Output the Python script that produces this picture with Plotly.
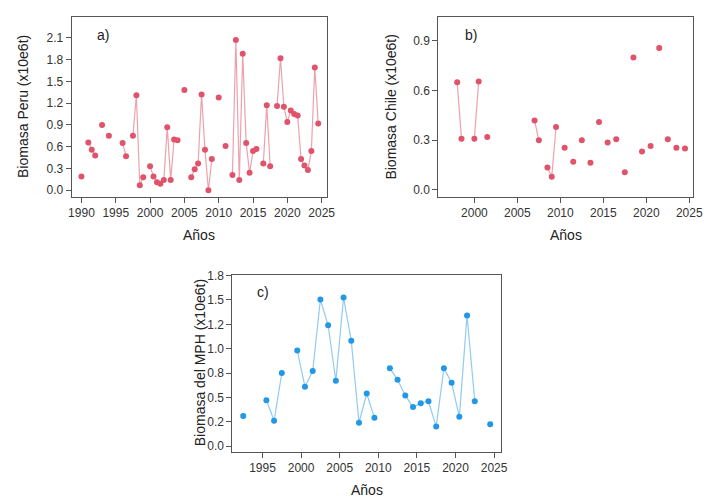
import plotly.graph_objects as go

# ---- data ----
peru_years = [1990, 1991, 1991.5, 1992, 1993, 1994, 1996, 1996.5, 1997.5, 1998, 1998.5, 1999,
              2000, 2000.5, 2001, 2001.5, 2002, 2002.5, 2003, 2003.5, 2004, 2005,
              2006, 2006.5, 2007, 2007.5, 2008, 2008.5, 2009, 2010, 2011,
              2012, 2012.5, 2013, 2013.5, 2014, 2014.5, 2015, 2015.5,
              2016.5, 2017, 2017.5, 2018.5, 2019, 2019.5, 2020, 2020.5, 2021, 2021.5,
              2022, 2022.5, 2023, 2023.5, 2024, 2024.5]
peru_vals = [0.19, 0.66, 0.56, 0.48, 0.90, 0.75, 0.65, 0.47, 0.75, 1.31, 0.07, 0.18,
             0.33, 0.19, 0.11, 0.09, 0.14, 0.87, 0.14, 0.70, 0.69, 1.38,
             0.18, 0.29, 0.37, 1.32, 0.56, 0.00, 0.43, 1.28, 0.61,
             0.21, 2.07, 0.14, 1.88, 0.65, 0.24, 0.54, 0.57,
             0.37, 1.17, 0.33, 1.16, 1.82, 1.15, 0.94, 1.10, 1.05, 1.03,
             0.43, 0.34, 0.28, 0.54, 1.69, 0.92]

chile_years = [1998, 1998.5, 2000, 2000.5, 2001.5, 2007, 2007.5, 2008.5, 2009, 2009.5,
               2010.5, 2011.5, 2012.5, 2013.5, 2014.5, 2015.5, 2016.5, 2017.5, 2018.5,
               2019.5, 2020.5, 2021.5, 2022.5, 2023.5, 2024.5]
chile_vals = [0.65, 0.31, 0.31, 0.655, 0.32, 0.42, 0.30, 0.135, 0.08, 0.38,
              0.255, 0.17, 0.30, 0.165, 0.41, 0.287, 0.307, 0.107, 0.80,
              0.232, 0.265, 0.857, 0.307, 0.255, 0.25]

mph_years = [1992.5, 1995.5, 1996.5, 1997.5, 1999.5, 2000.5, 2001.5, 2002.5, 2003.5, 2004.5,
             2005.5, 2006.5, 2007.5, 2008.5, 2009.5, 2011.5, 2012.5, 2013.5, 2014.5, 2015.5,
             2016.5, 2017.5, 2018.5, 2019.5, 2020.5, 2021.5, 2022.5, 2024.5]
mph_vals = [0.31, 0.47, 0.26, 0.75, 0.98, 0.61, 0.77, 1.505, 1.24, 0.67,
            1.525, 1.08, 0.24, 0.54, 0.29, 0.80, 0.68, 0.52, 0.40, 0.44,
            0.46, 0.20, 0.80, 0.65, 0.30, 1.34, 0.46, 0.225]

peru_yticks = [0.0, 0.3, 0.6, 0.9, 1.2, 1.5, 1.8, 2.1]
chile_yticks = [0.0, 0.3, 0.6, 0.9]
mph_yticks = [0.0, 0.25, 0.5, 0.75, 1.0, 1.25, 1.5, 1.75]
mph_ytext = ["0.0", "0.2", "0.5", "0.8", "1.0", "1.2", "1.5", "1.8"]

RED = "#DF536B"
RED_LINE = "rgba(223,83,107,0.55)"
BLUE = "#2297E6"
BLUE_LINE = "rgba(34,151,230,0.5)"


def with_gaps(xs, ys, step):
    gx, gy = [], []
    for i, (x, y) in enumerate(zip(xs, ys)):
        if i > 0 and x - xs[i - 1] > step + 1e-9:
            gx.append(None)
            gy.append(None)
        gx.append(x)
        gy.append(y)
    return gx, gy


W, H = 711, 499
fig = go.Figure()

series = [
    (peru_years, peru_vals, 0.5, RED, RED_LINE, "x", "y"),
    (chile_years, chile_vals, 0.5, RED, RED_LINE, "x2", "y2"),
    (mph_years, mph_vals, 1.0, BLUE, BLUE_LINE, "x3", "y3"),
]
for xs, ys, step, mc, lc, xa, ya in series:
    gx, gy = with_gaps(xs, ys, step)
    fig.add_trace(go.Scatter(x=gx, y=gy, mode="lines", line=dict(color=lc, width=1.2),
                             connectgaps=False, xaxis=xa, yaxis=ya, showlegend=False,
                             hoverinfo="skip"))
    fig.add_trace(go.Scatter(x=xs, y=ys, mode="markers", marker=dict(color=mc, size=6),
                             xaxis=xa, yaxis=ya, showlegend=False))

FONT = "Liberation Sans, Arial, sans-serif"
common = dict(showline=True, mirror=True, linecolor="#555", linewidth=1, ticks="outside",
              ticklen=5, tickcolor="#555", showgrid=False, zeroline=False,
              tickfont=dict(family=FONT, size=12, color="#333"))


def px_dom_x(a, b):
    return [a / W, b / W]


def px_dom_y(top, bottom):
    return [1 - bottom / H, 1 - top / H]


fig.update_layout(
    width=W, height=H, margin=dict(l=0, r=0, t=0, b=0),
    paper_bgcolor="white", plot_bgcolor="white",
    xaxis=dict(domain=px_dom_x(69, 329), anchor="y", range=[1988.57, 2025.71],
               tickvals=list(range(1990, 2026, 5)), **common),
    yaxis=dict(domain=px_dom_y(11, 194), anchor="x", range=[-0.091, 2.39],
               tickvals=peru_yticks, tickformat=".1f", **common),
    xaxis2=dict(domain=px_dom_x(443, 703), anchor="y2", range=[1995.8, 2025.45],
                tickvals=list(range(2000, 2026, 5)), **common),
    yaxis2=dict(domain=px_dom_y(11, 194), anchor="x2", range=[-0.042, 1.046],
                tickvals=chile_yticks, tickformat=".1f", **common),
    xaxis3=dict(domain=px_dom_x(233, 507), anchor="y3", range=[1991.1, 2025.9],
                tickvals=list(range(1995, 2026, 5)), **common),
    yaxis3=dict(domain=px_dom_y(273, 453), anchor="x3", range=[-0.058, 1.76],
                tickvals=mph_yticks, ticktext=mph_ytext, **common),
)


def ann(text, x, y, angle=0, size=14):
    fig.add_annotation(text=text, x=x / W, y=1 - y / H, xref="paper", yref="paper",
                       showarrow=False, textangle=angle,
                       font=dict(family=FONT, size=size, color="#222"),
                       xanchor="center", yanchor="middle")


ann("Años", 199, 233)
ann("Años", 573, 233)
ann("Años", 370, 492)
ann("Biomasa Peru (x10e6t)", 20, 102, -90)
ann("Biomasa Chile (x10e6t)", 395, 102, -90)
ann("Biomasa del MPH (x10e6t)", 200, 363, -90)
ann("a)", 101, 29)
ann("b)", 476, 29)
ann("c)", 264, 291)

fig.write_html("out.html")
